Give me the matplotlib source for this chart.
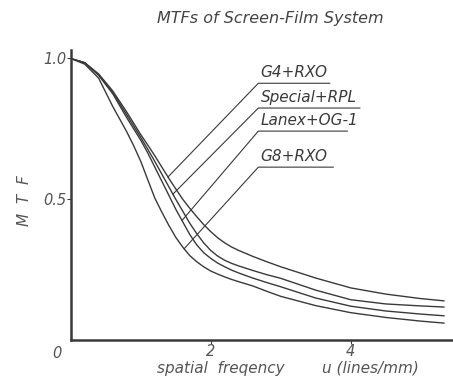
import numpy as np
import matplotlib
matplotlib.use("Agg")
import matplotlib.pyplot as plt

# spatial frequency (lines/mm) and MTF values
u = [0.0, 0.2, 0.4, 0.6, 0.8, 0.9, 1.0, 1.1, 1.2, 1.3, 1.4, 1.5, 1.6, 1.7, 1.8, 1.9,
     2.0, 2.1, 2.2, 2.3, 2.4, 2.6, 2.8, 3.0, 3.5, 4.0, 4.5, 5.0, 5.33]
mtf_g4_rxo = [1.0, 0.985, 0.945, 0.885, 0.81, 0.77, 0.73, 0.693, 0.655, 0.615, 0.575,
              0.537, 0.50, 0.468, 0.438, 0.41, 0.385, 0.363, 0.345, 0.33, 0.318,
              0.297, 0.278, 0.26, 0.22, 0.185, 0.163, 0.147, 0.139]
mtf_special_rpl = [1.0, 0.985, 0.942, 0.88, 0.80, 0.76, 0.72, 0.678, 0.635, 0.59, 0.545,
                   0.50, 0.458, 0.415, 0.378, 0.345, 0.318, 0.298, 0.283, 0.272, 0.263,
                   0.247, 0.232, 0.219, 0.177, 0.143, 0.128, 0.121, 0.117]
mtf_lanex_og1 = [1.0, 0.985, 0.94, 0.875, 0.79, 0.75, 0.71, 0.665, 0.615, 0.565, 0.515,
                 0.465, 0.42, 0.375, 0.338, 0.31, 0.29, 0.273, 0.26, 0.248, 0.238,
                 0.22, 0.204, 0.189, 0.149, 0.12, 0.103, 0.092, 0.086]
mtf_g8_rxo = [1.0, 0.98, 0.93, 0.83, 0.74, 0.69, 0.635, 0.57, 0.505, 0.455, 0.408,
              0.365, 0.33, 0.30, 0.278, 0.26, 0.245, 0.234, 0.224, 0.215, 0.207,
              0.192, 0.173, 0.155, 0.122, 0.097, 0.08, 0.067, 0.06]

labels = ["G4+RXO", "Special+RPL", "Lanex+OG-1", "G8+RXO"]
curves = [mtf_g4_rxo, mtf_special_rpl, mtf_lanex_og1, mtf_g8_rxo]
# where each leader line touches its curve (u)
leader_u = [1.39, 1.46, 1.59, 1.62]
# label underline heights and right ends (data coords)
label_y = [0.912, 0.824, 0.742, 0.614]
label_x1 = [3.70, 4.13, 3.95, 3.75]
label_x0 = 2.68

plt.rcParams['font.family'] = ['DejaVu Sans']
ink = '#3a3a3a'
soft = '#555555'

fig = plt.figure(figsize=(4.53, 3.82), dpi=100)
ax = fig.add_axes([0.156, 0.110, 0.844, 0.759])

for vals in curves:
    ax.plot(u, vals, color=ink, lw=1.0)

for lab, lu, ly, lx1, vals in zip(labels, leader_u, label_y, label_x1, curves):
    lv = np.interp(lu, u, vals)
    ax.plot([lu, label_x0, lx1], [lv, ly, ly], color=ink, lw=0.8)
    ax.text(label_x0 + 0.03, ly + 0.012, lab, fontsize=11, style='italic',
            color=ink, ha='left', va='bottom')

ax.set_xlim(0, 5.46)
ax.set_ylim(0, 1.03)
for s in ['top', 'right']:
    ax.spines[s].set_visible(False)
for s in ['left', 'bottom']:
    ax.spines[s].set_linewidth(1.8)
    ax.spines[s].set_color(ink)

ax.set_xticks([2, 4])
ax.set_xticklabels(['2', '4'])
ax.set_yticks([0.5, 1.0])
ax.set_yticklabels(['0.5', '1.0'])
ax.tick_params(direction='out', length=3, width=0.8, color=ink, labelcolor=soft,
               labelsize=10.5, pad=0)
for t in ax.get_xticklabels() + ax.get_yticklabels():
    t.set_style('italic')
ax.text(-0.2, -0.02, '0', style='italic', fontsize=10.5, color=soft,
        ha='center', va='top')

fig.text(0.597, 0.952, 'MTFs of Screen-Film System', style='italic', fontsize=11.5,
         color='#444444', ha='center', va='center')
fig.text(0.487, 0.036, 'spatial  freqency', style='italic', fontsize=11,
         color=soft, ha='center', va='center')
fig.text(0.817, 0.036, 'u (lines/mm)', style='italic', fontsize=11,
         color=soft, ha='center', va='center')
fig.text(0.055, 0.474, 'M  T  F', style='italic', fontsize=11, color=soft,
         rotation=90, ha='center', va='center')

fig.savefig('out.png', dpi=100)
